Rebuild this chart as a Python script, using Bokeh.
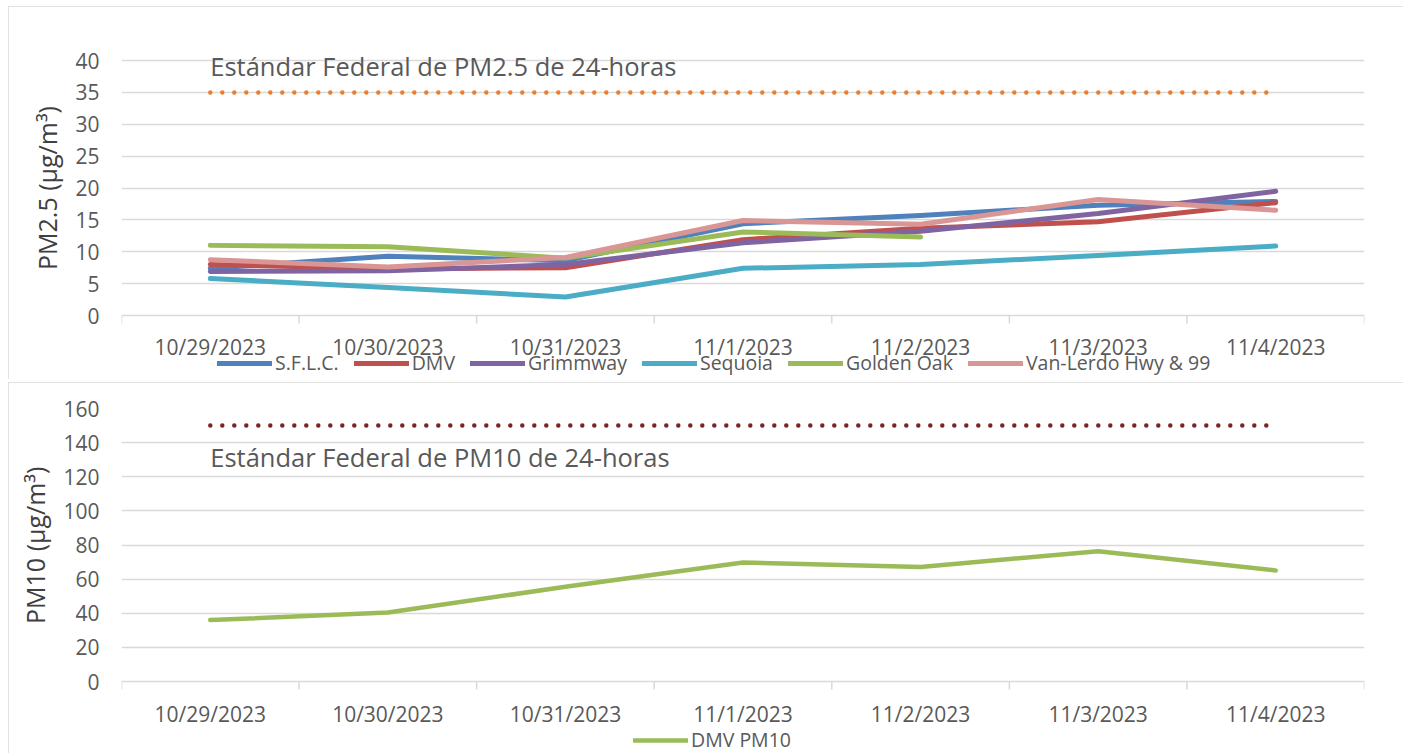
import math
from bokeh.plotting import figure
from bokeh.models import FixedTicker, Legend, LegendItem, Label, Range1d, Spacer
from bokeh.layouts import column, row
from bokeh.core.properties import value
from bokeh.embed import file_html
from bokeh.resources import INLINE

nan = math.nan

# ---- data ----
dates = ["10/29/2023", "10/30/2023", "10/31/2023", "11/1/2023",
         "11/2/2023", "11/3/2023", "11/4/2023"]
sflc = [7.4, 9.3, 8.6, 14.4, 15.7, 17.3, 17.9]
dmv = [8.0, 7.3, 7.5, 11.9, 13.7, 14.7, 17.7]
grimmway = [6.9, 7.0, 8.0, 11.4, 13.2, 16.0, 19.5]
sequoia = [5.8, 4.4, 2.9, 7.4, 8.0, 9.4, 10.9]
golden_oak = [11.0, 10.8, 9.0, 13.1, 12.3, nan, nan]
van_lerdo = [8.75, 7.6, 9.1, 14.9, 14.3, 18.2, 16.5]
pm25_standard = [35, 35, 35, 35, 35, 35, 35]

dmv_pm10 = [36.0, 40.4, 55.5, 69.7, 67.1, 76.4, 65.1]
pm10_standard = [150, 150, 150, 150, 150, 150, 150]

pm25_series = [
    ("S.F.L.C.", sflc, "#4F81BD"),
    ("DMV", dmv, "#C0504D"),
    ("Grimmway", grimmway, "#8064A2"),
    ("Sequoia", sequoia, "#4BACC6"),
    ("Golden Oak", golden_oak, "#9BBB59"),
    ("Van-Lerdo Hwy & 99", van_lerdo, "#D99694"),
]
pm25_ticks = [0, 5, 10, 15, 20, 25, 30, 35, 40]
pm10_ticks = [0, 20, 40, 60, 80, 100, 120, 140, 160]

FONT = "Open Sans"
GRID = "#D9D9D9"
TXT = "#595959"
NB = "\u00a0"

xs = [i + 0.5 for i in range(len(dates))]
bounds = list(range(len(dates) + 1))


def make_fig(width, height, left, right, top, plot_px, ymax, below_px, above_px):
    # plot_px: pixel height between 0 and ymax; frame extends below 0 / above ymax
    ppu = plot_px / ymax
    p = figure(width=width, height=height, x_range=Range1d(0, 7),
               y_range=Range1d(-below_px / ppu, ymax + above_px / ppu),
               x_axis_location=None, output_backend="svg", toolbar_location=None,
               min_border_left=left, min_border_right=right,
               min_border_top=top - above_px, min_border_bottom=0)
    p.outline_line_color = None
    p.styles = {"outline": "1px solid #D9D9D9", "outline-offset": "-1px"}
    return p, ppu


def style(p, ppu, yticks, ylabel, label_px):
    for g in p.xgrid:
        g.visible = False
    p.ygrid.grid_line_color = GRID
    p.ygrid.grid_line_width = 1.5
    p.ygrid.ticker = FixedTicker(ticks=yticks)
    ya = p.yaxis[0]
    ya.ticker = FixedTicker(ticks=yticks)
    ya.axis_line_color = None
    ya.major_tick_line_color = None
    ya.minor_tick_line_color = None
    ya.major_tick_out = 0
    ya.major_tick_in = 0
    ya.major_label_text_font = FONT
    ya.major_label_text_font_size = "21px"
    ya.major_label_text_color = TXT
    ya.major_label_standoff = 22
    ya.axis_label = ylabel
    ya.axis_label_text_font = FONT
    ya.axis_label_text_font_style = "normal"
    ya.axis_label_text_font_size = "25px"
    ya.axis_label_text_color = "#404040"
    ya.axis_label_standoff = 8
    # category boundary ticks below the base line
    p.ray(x=bounds, y=[0] * len(bounds), length=8, length_units="screen",
          angle=-math.pi / 2, line_color=GRID, line_width=1.5)
    # category labels
    p.text(x=xs, y=[-label_px / ppu] * len(xs), text=dates,
           text_align="center", text_baseline="middle",
           text_font=value(FONT), text_font_size="21px", text_color=TXT)


def make_legend(items, vx, vy):
    return Legend(items=items, orientation="horizontal", location=(vx, vy),
                  glyph_width=55, glyph_height=20, label_standoff=3, spacing=15,
                  padding=0, margin=0, border_line_color=None,
                  background_fill_alpha=0, label_text_font=FONT,
                  label_text_font_size="19.5px", label_text_color=TXT)


# ---- top chart ----
p1, ppu1 = make_fig(1395, 373, 111, 20, 54, 255, 40, 64, 25)
style(p1, ppu1, pm25_ticks, NB * 6 + "PM2.5 (µg/m³)", 31)

p1.line(xs, pm25_standard, line_color="#ED7D31", line_width=4.5,
        line_dash="0 12", line_cap="round")
items = []
for name, vals, col in pm25_series:
    r = p1.line(xs, vals, line_color=col, line_width=5, line_cap="round",
                line_join="round")
    items.append(LegendItem(label=name, renderers=[r]))

p1.add_layout(make_legend(items, 96, 3), "center")
p1.add_layout(Label(x=0.5, y=39.1, text="Estándar Federal de PM2.5 de 24-horas",
                    text_font=FONT, text_font_size="25.5px", text_color=TXT,
                    text_baseline="middle", text_align="left"))

# ---- bottom chart ----
p2, ppu2 = make_fig(1395, 371, 113, 39, 26, 273, 160, 72, 0)
style(p2, ppu2, pm10_ticks, NB * 11 + "PM10 (µg/m³)", 32)

p2.line(xs, pm10_standard, line_color="#7B2426", line_width=4.5,
        line_dash="0 12", line_cap="round")
r10 = p2.line(xs, dmv_pm10, line_color="#9BBB59", line_width=4.5,
              line_cap="round", line_join="round")
p2.add_layout(make_legend([LegendItem(label="DMV PM10", renderers=[r10])], 512, 0),
              "center")
p2.add_layout(Label(x=0.5, y=131.5, text="Estándar Federal de PM10 de 24-horas",
                    text_font=FONT, text_font_size="25.5px", text_color=TXT,
                    text_baseline="middle", text_align="left"))

layout = row(Spacer(width=8, height=10),
             column(Spacer(width=10, height=6), p1, Spacer(width=10, height=3), p2))
open("out.html", "w").write(file_html(layout, INLINE))
